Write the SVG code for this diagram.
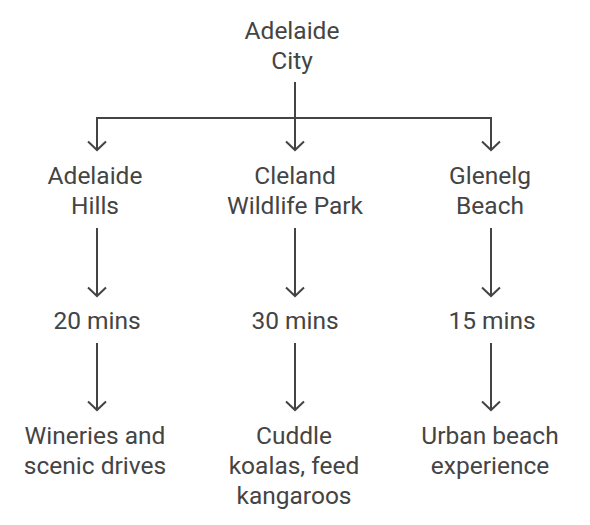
<svg xmlns="http://www.w3.org/2000/svg" width="590" height="525" viewBox="0 0 590 525">
<style>
text{font-family:Roboto,"Liberation Sans",sans-serif;font-size:24.5px;fill:#444;text-anchor:middle}
.c{fill:none;stroke:#444;stroke-width:2}
</style>
<defs>
<marker id="ah" markerWidth="12" markerHeight="22" refX="10" refY="8" orient="auto" markerUnits="userSpaceOnUse" viewBox="0 -3 12 22">
<path d="M1.5 -1 L10 8 L1.5 17" fill="none" stroke="#444" stroke-width="2"/>
</marker>
</defs>
<rect width="590" height="525" fill="#fff"/>
<g id="connectors">
<path class="c" d="M295 82 V118 M97 119 V118 H491 V119"/>
<line class="c" x1="97" y1="118" x2="97" y2="150" marker-end="url(#ah)"/>
<line class="c" x1="295" y1="118" x2="295" y2="150" marker-end="url(#ah)"/>
<line class="c" x1="491" y1="118" x2="491" y2="150" marker-end="url(#ah)"/>
<line class="c" x1="97" y1="228" x2="97" y2="296" marker-end="url(#ah)"/>
<line class="c" x1="295" y1="228" x2="295" y2="296" marker-end="url(#ah)"/>
<line class="c" x1="491" y1="228" x2="491" y2="296" marker-end="url(#ah)"/>
<line class="c" x1="97" y1="343" x2="97" y2="410" marker-end="url(#ah)"/>
<line class="c" x1="295" y1="343" x2="295" y2="410" marker-end="url(#ah)"/>
<line class="c" x1="491" y1="343" x2="491" y2="410" marker-end="url(#ah)"/>
</g>
<g id="adelaide-city"><text x="292" y="39">Adelaide</text><text x="292" y="69">City</text></g>
<g id="adelaide-hills"><text x="95" y="184">Adelaide</text><text x="95" y="214">Hills</text></g>
<g id="cleland"><text x="295" y="184">Cleland</text><text x="295" y="214">Wildlife Park</text></g>
<g id="glenelg"><text x="490" y="184">Glenelg</text><text x="490" y="214">Beach</text></g>
<g id="t20"><text x="97" y="329">20 mins</text></g>
<g id="t30"><text x="295" y="329">30 mins</text></g>
<g id="t15"><text x="492" y="329">15 mins</text></g>
<g id="wineries"><text x="95" y="444">Wineries and</text><text x="95" y="474">scenic drives</text></g>
<g id="koalas"><text x="294" y="444">Cuddle</text><text x="294" y="474">koalas, feed</text><text x="294" y="504">kangaroos</text></g>
<g id="urban"><text x="490" y="444">Urban beach</text><text x="490" y="474">experience</text></g>
</svg>
